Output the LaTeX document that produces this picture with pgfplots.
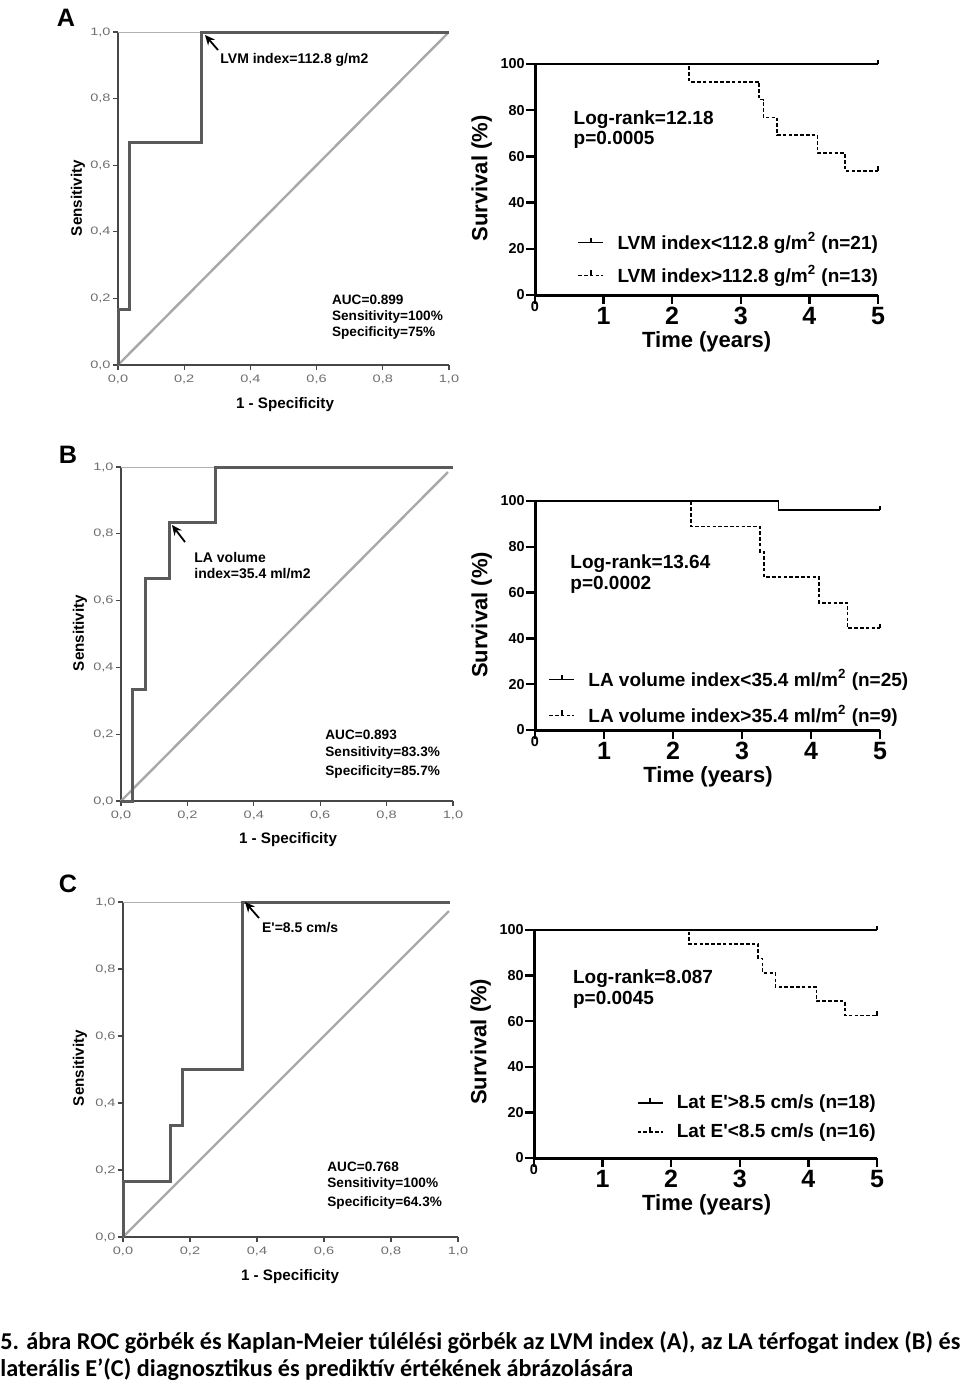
\documentclass[border=0pt]{standalone}
\usepackage{fontspec}
\setmainfont{Liberation Sans}
\newfontfamily\capfont{Carlito}
\usepackage{pgfplots}
\pgfplotsset{compat=1.18}
\usetikzlibrary{arrows.meta}

\definecolor{roccurve}{HTML}{5A5A5A}
\definecolor{rocdiag}{HTML}{A8A8A8}
\definecolor{rocaxis}{HTML}{474747}
\definecolor{ticklab}{HTML}{6E6E6E}
\definecolor{roctop}{HTML}{B0B0B0}

\pgfdeclareplotmark{tickup}{\pgfpathmoveto{\pgfpointorigin}\pgfpathlineto{\pgfpoint{0pt}{\pgfplotmarksize}}\pgfusepathqstroke}

\pgfplotsset{
  rocax/.style={
    scale only axis, clip=false,
    axis x line*=bottom, axis y line*=left,
    axis line style={-, line width=1.1pt, rocaxis},
    xmin=0, xmax=1, ymin=0, ymax=1,
    xtick={0,0.2,0.4,0.6,0.8,1}, ytick={0,0.2,0.4,0.6,0.8,1},
    tick align=outside, major tick length=2.5pt,
    tick style={rocaxis, line width=0.6pt},
    xticklabel={\scalebox{1.35}[1]{\pgfmathprintnumber[fixed,fixed zerofill,precision=1,use comma]{\tick}}},
    yticklabel={\scalebox{1.35}[1]{\pgfmathprintnumber[fixed,fixed zerofill,precision=1,use comma]{\tick}}},
    ticklabel style={font=\fontsize{5.4}{6}\selectfont, text=ticklab, inner sep=1pt},
    xticklabel style={yshift=-1.5pt},
    /pgf/number format/assume math mode=true,
  },
  kmax/.style={
    scale only axis, clip=false,
    axis x line*=bottom, axis y line*=left,
    axis line style={-, line width=1.5pt, black},
    xmin=0, xmax=5, ymin=0, ymax=100,
    xtick={1,2,3,4,5}, ytick={0,20,40,60,80,100},
    tick align=outside, major tick length=4.5pt,
    tick style={black, line width=1.2pt},
    yticklabel style={font=\bfseries\fontsize{7.2}{8}\selectfont, inner sep=0.5pt},
    xticklabel style={font=\bfseries\fontsize{12.5}{14}\selectfont, inner sep=1.5pt},
    extra x ticks={0},
    extra x tick style={xticklabel style={font=\bfseries\fontsize{7.2}{8}\selectfont, yshift=3pt}},
    /pgf/number format/assume math mode=true,
    legend cell align=left,
    legend image code/.code={
      \draw[##1, line width=0.8pt, mark=none] (0pt,0pt) -- (12.5pt,0pt);
      \draw[solid, line width=0.9pt] (6.25pt,0pt) -- (6.25pt,2.5pt);
    },
  },
  kmsolid/.style={const plot mark left, black, line width=0.8pt, mark=tickup, mark size=2.2pt, mark options={solid}},
  kmdash/.style={const plot mark left, black, line width=0.85pt, dash pattern=on 1.8pt off 1.1pt, mark=tickup, mark size=2.2pt, mark options={solid}},
  kmleg/.style={legend style={draw=none, fill=none, font=\bfseries\fontsize{9.5}{11}\selectfont, nodes={inner sep=0pt}, column sep=6.75pt, row sep=#1}},
}

\begin{document}
\begin{tikzpicture}
\useasboundingbox (0,0) rectangle (480pt,-694.5pt);

% ---------------- ROC A ----------------
\begin{axis}[rocax, at={(59pt,-182.5pt)}, anchor=south west, width=165.5pt, height=166.5pt]
\addplot[rocdiag, line width=1.2pt] coordinates {(0,0) (0.995,0.995)};
\addplot[roctop, line width=0.5pt] coordinates {(0,1) (1,1)};
\addplot[roccurve, line width=1.5pt] coordinates {(0,0) (0,0.167) (0.036,0.167) (0.036,0.667) (0.252,0.667) (0.252,1) (1,1)};
\end{axis}

% ---------------- ROC B ----------------
\begin{axis}[rocax, at={(60.5pt,-400.5pt)}, anchor=south west, width=166pt, height=167pt]
\addplot[rocdiag, line width=1.2pt] coordinates {(0,0) (0.985,0.985)};
\addplot[roctop, line width=0.5pt] coordinates {(0,1) (1,1)};
\addplot[roccurve, line width=1.5pt] coordinates {(0,0) (0.036,0) (0.036,0.333) (0.074,0.333) (0.074,0.667) (0.145,0.667) (0.145,0.833) (0.286,0.833) (0.286,1) (1,1)};
\end{axis}

% ---------------- ROC C ----------------
\begin{axis}[rocax, at={(61.5pt,-618.5pt)}, anchor=south west, width=167.5pt, height=167.5pt]
\addplot[rocdiag, line width=1.2pt] coordinates {(0,0) (0.973,0.973)};
\addplot[roctop, line width=0.5pt] coordinates {(0,1) (0.97,1)};
\addplot[roccurve, line width=1.5pt] coordinates {(0,0) (0,0.167) (0.142,0.167) (0.142,0.333) (0.178,0.333) (0.178,0.5) (0.357,0.5) (0.357,1) (0.975,1)};
\end{axis}

% ---------------- KM A ----------------
\begin{axis}[kmax, at={(267.5pt,-147.5pt)}, anchor=south west, width=171.5pt, height=115.5pt,
  kmleg=6.5pt, legend style={at={(axis description cs:0.105,0.156)}, anchor=west}]
\addplot[kmsolid, mark indices={2}] coordinates {(0,100) (5,100)};
\addlegendentry{LVM index<112.8 g/m\textsuperscript{2} (n=21)}
\addplot[kmdash, mark indices={8}] coordinates {(0,100) (2.25,92.3) (3.27,84.6) (3.33,76.9) (3.53,69.2) (4.12,61.5) (4.52,53.8) (5,53.8)};
\addlegendentry{LVM index>112.8 g/m\textsuperscript{2} (n=13)}
\end{axis}

% ---------------- KM B ----------------
\begin{axis}[kmax, at={(267.5pt,-365pt)}, anchor=south west, width=172.5pt, height=114.5pt,
  kmleg=8pt, legend style={at={(axis description cs:0.020,0.142)}, anchor=west}]
\addplot[kmsolid, mark indices={3}] coordinates {(0,100) (3.53,96) (5,96)};
\addlegendentry{LA volume index<35.4 ml/m\textsuperscript{2} (n=25)}
\addplot[kmdash, mark indices={7}] coordinates {(0,100) (2.26,88.9) (3.26,77.8) (3.32,66.7) (4.12,55.6) (4.53,44.4) (5,44.4)};
\addlegendentry{LA volume index>35.4 ml/m\textsuperscript{2} (n=9)}
\end{axis}

% ---------------- KM C ----------------
\begin{axis}[kmax, at={(267pt,-579pt)}, anchor=south west, width=171.5pt, height=114pt,
  kmleg=6pt, legend style={at={(axis description cs:0.281,0.177)}, anchor=west}]
\addplot[kmsolid, mark indices={2}] coordinates {(0,100) (5,100)};
\addlegendentry{Lat E\textquotesingle>8.5 cm/s (n=18)}
\addplot[kmdash, mark indices={8}] coordinates {(0,100) (2.26,93.75) (3.27,87.5) (3.33,81.25) (3.52,75) (4.12,68.75) (4.53,62.5) (5,62.5)};
\addlegendentry{Lat E\textquotesingle<8.5 cm/s (n=16)}
\end{axis}

% ---------------- text ----------------
\begin{scope}[x=0.5pt, y=-0.5pt]
\tikzset{pl/.style={font=\bfseries\fontsize{12.6}{14}\selectfont},
  rl/.style={font=\bfseries\fontsize{7.6}{9}\selectfont},
  ann/.style={anchor=west, inner sep=0pt, font=\bfseries\fontsize{7}{8}\selectfont},
  auc/.style={anchor=west, inner sep=0pt, font=\bfseries\fontsize{6.8}{8}\selectfont},
  lr/.style={anchor=west, inner sep=0pt, font=\bfseries\fontsize{9.5}{11}\selectfont},
  km/.style={font=\bfseries\fontsize{11}{13}\selectfont},
  arr/.style={-{Stealth[length=5pt,width=4.5pt]}, line width=0.9pt}}
% panel letters
\node[pl] at (66,18) {A};
\node[pl] at (68,455) {B};
\node[pl] at (68,884) {C};
% ROC A
\node[ann] at (220,59.5) {LVM index=112.8 g/m2};
\draw[arr] (218,50) -- (205,35);
\node[auc] at (331.7,300) {AUC=0.899};
\node[auc] at (331.7,316.7) {Sensitivity=100\%};
\node[auc] at (331.7,333.3) {Specificity=75\%};
\node[rl] at (285,405) {1 - Specificity};
\node[rl, rotate=90] at (78,198) {Sensitivity};
% ROC B
\node[ann] at (194,557.5) {LA volume};
\node[ann] at (194,574) {index=35.4 ml/m2};
\draw[arr] (185,542) -- (172,525);
\node[auc] at (325,735) {AUC=0.893};
\node[auc] at (325,753.3) {Sensitivity=83.3\%};
\node[auc] at (325,771.7) {Specificity=85.7\%};
\node[rl] at (288,840) {1 - Specificity};
\node[rl, rotate=90] at (80,633) {Sensitivity};
% ROC C
\node[ann] at (261.7,928) {E\textquotesingle=8.5 cm/s};
\draw[arr] (259,918) -- (245,902);
\node[auc] at (327,1166.7) {AUC=0.768};
\node[auc] at (327,1184.3) {Sensitivity=100\%};
\node[auc] at (327,1202.7) {Specificity=64.3\%};
\node[rl] at (290,1276.7) {1 - Specificity};
\node[rl, rotate=90] at (80,1068) {Sensitivity};
% KM A
\node[lr] at (573.3,120) {Log-rank=12.18};
\node[lr] at (573.3,140) {p=0.0005};
\node[km, rotate=90] at (481.7,178.3) {Survival (\%)};
\node[km] at (706.7,341.7) {Time (years)};
% KM B
\node[lr] at (570,563.3) {Log-rank=13.64};
\node[lr] at (570,585) {p=0.0002};
\node[km, rotate=90] at (481.7,615) {Survival (\%)};
\node[km] at (708,776.7) {Time (years)};
% KM C
\node[lr] at (572.7,978.3) {Log-rank=8.087};
\node[lr] at (572.7,1000) {p=0.0045};
\node[km, rotate=90] at (480.7,1041.7) {Survival (\%)};
\node[km] at (706.7,1205) {Time (years)};
% caption
\node[anchor=base west, inner sep=0pt, font=\capfont\bfseries\fontsize{12.1}{14}\selectfont] at (0,1349.3) {5. ábra ROC görbék és Kaplan-Meier túlélési görbék az LVM index (A), az LA térfogat index (B) és};
\node[anchor=base west, inner sep=0pt, font=\capfont\bfseries\fontsize{12.1}{14}\selectfont] at (0,1376.7) {laterális E’(C) diagnosztikus és prediktív értékének ábrázolására};
\end{scope}
\end{tikzpicture}
\end{document}
